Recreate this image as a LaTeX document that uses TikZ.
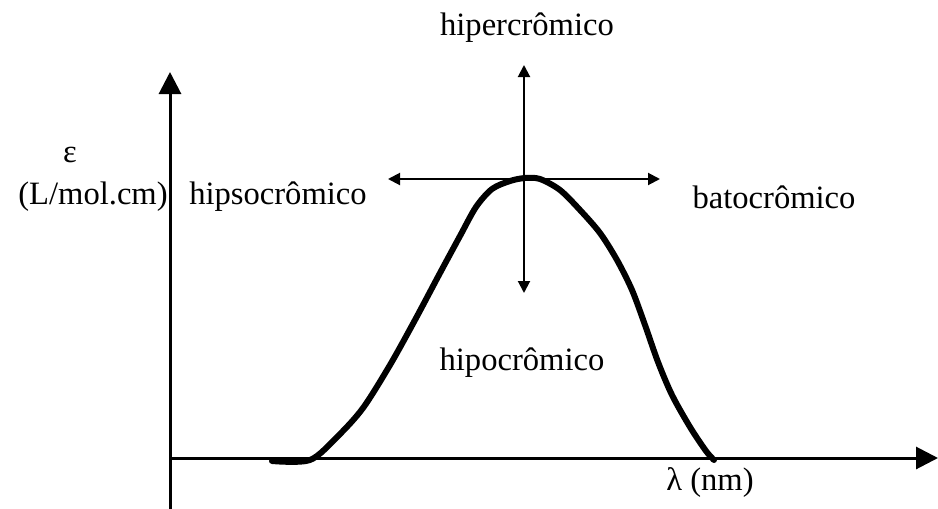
\documentclass[tikz,border=0pt]{standalone}
\usepackage{fontspec}
\setmainfont{Liberation Serif}
\usetikzlibrary{arrows.meta}

\begin{document}
\begin{tikzpicture}[x = 0.5pt, y = -0.5pt, font = \fontsize{16.3}{19}\selectfont,
    axis/.style = {line width = 1.5pt, -{Triangle[width = 11pt, length = 11pt]}},
    shiftarrow/.style = {line width = 1pt, {Triangle[width = 6pt, length = 6pt]}-{Triangle[width = 6pt, length = 6pt]}},
    band/.style = {line width = 3pt, line join = round, line cap = round}]
        \useasboundingbox (0,0) rectangle (938,509);
        % eixos
        \coordinate(O)at(170,458);
        \coordinate(ybot)at(170,509);
        \coordinate(ytop)at(170,72);
        \coordinate(xend)at(938,458);
        \path[draw, axis](ybot)to(ytop);
        \path[draw, axis](O)to(xend);
        % banda de absorcao
        \path[draw, band] plot[smooth, tension = 0.5] coordinates{
            (272,461) (310,460) (338,436) (363,408) (390,365) (415,320)
            (440,273) (460,236) (476,207) (492,189) (510,181) (525,178)
            (540,179) (560,190) (580,210) (600,233) (617,260) (632,290)
            (645,325) (658,362) (672,395) (690,427) (706,451) (714,460)};
        % deslocamentos
        \coordinate(hl)at(388,179);
        \coordinate(hr)at(660,179);
        \coordinate(vt)at(524,65);
        \coordinate(vb)at(524,293);
        \path[draw, shiftarrow](hl)to(hr);
        \path[draw, shiftarrow](vt)to(vb);
        % textos
        \node(hiper)at(527,28){hipercrômico};
        \node(eps)at(70,155){ε};
        \node(unit)at(93,197){(L/mol.cm)};
        \node(hipso)at(278,197){hipsocrômico};
        \node(bato)at(774,197){batocrômico};
        \node(hipo)at(522,363){hipocrômico};
        \node(lambda)at(710,482){λ (nm)};
    \end{tikzpicture}
\end{document}
